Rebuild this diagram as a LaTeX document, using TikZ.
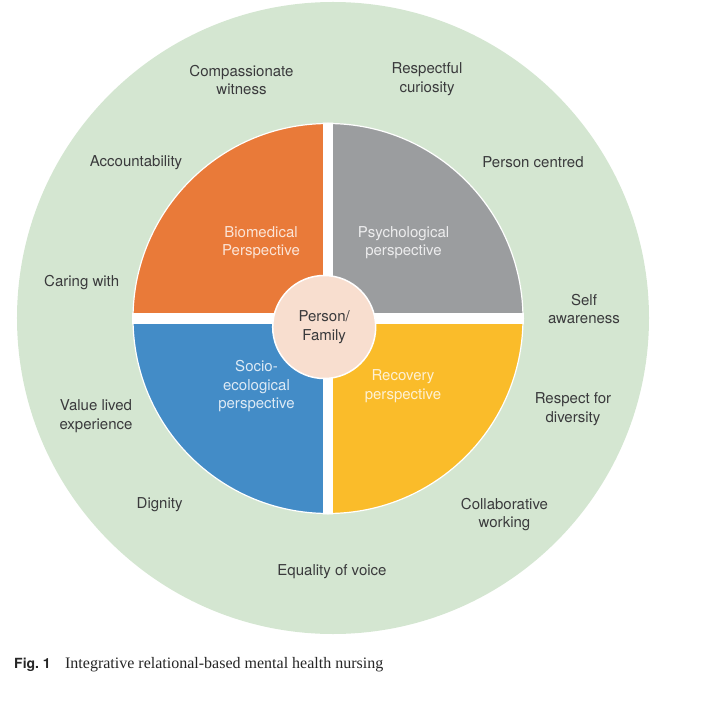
\documentclass[tikz,border=0pt]{standalone}
\usepackage{fontspec}
\setmainfont{TeX Gyre Heros}
\newfontfamily\capfont{Liberation Serif}
\usepackage{tikz}

\definecolor{ringgreen}{HTML}{D4E6D1}
\definecolor{bioorange}{HTML}{E97A39}
\definecolor{psygray}{HTML}{9B9D9F}
\definecolor{socblue}{HTML}{438CC7}
\definecolor{recyellow}{HTML}{FABC2A}
\definecolor{personpink}{HTML}{F8DECF}
\definecolor{textdark}{HTML}{3A3A3C}

\begin{document}
\begin{tikzpicture}[x=1pt,y=1pt]

\tikzset{value/.style = {align=center,text=textdark,inner sep=0,font=\fontsize{15}{18.5}\selectfont}}
\tikzset{view/.style = {align=center,inner sep=0,font=\fontsize{15}{18.5}\selectfont}}

\useasboundingbox (-328,-382.5) rectangle (375,318.5);

% outer ring
\fill[ringgreen] (5,0.5) circle (316);

% perspectives
\fill[bioorange] (0,0) -- (180:195) arc (180:90:195) -- cycle;
\fill[psygray] (0,0) -- (90:195) arc (90:0:195) -- cycle;
\fill[recyellow] (0,0) -- (0:195) arc (0:-90:195) -- cycle;
\fill[socblue] (0,0) -- (270:195) arc (270:180:195) -- cycle;
\begin{scope}
\clip (0,0) circle (196);
\draw[white,line width=10.6] (0,-200) -- (0,200);
\draw[white,line width=10.6] (-200,0) -- (200,0);
\end{scope}
\draw[white,line width=1.2] (0,0) circle (195);

\node[view,text=white!80!bioorange] (bio) at (-67,75.7) {Biomedical\\Perspective};
\node[view,text=white!82!psygray] (psy) at (75.5,75.7) {Psychological\\perspective};
\node[view,text=white!82!socblue] (soc) at (-71.5,-68) {Socio-\\ecological\\perspective};
\node[view,text=white!80!recyellow] (rec) at (75,-67.7) {Recovery\\perspective};

% centre
\node[circle,fill=personpink,draw=white,line width=1.5,minimum size=103,inner sep=0,
  align=center,text=textdark,font=\fontsize{15}{18.5}\selectfont] (pf) at (-3.8,-8.5) {Person/\\Family};

% values
\node[value] (compassion) at (-86.5,238.5) {Compassionate\\witness};
\node[value] (curiosity) at (99,239.5) {Respectful\\curiosity};
\node[value] (account) at (-192,155.8) {Accountability};
\node[value] (centred) at (205,156) {Person centred};
\node[value] (caring) at (-246.3,36.2) {Caring with};
\node[value] (aware) at (256,9.7) {Self\\awareness};
\node[value] (lived) at (-232,-97.7) {Value lived\\experience};
\node[value] (diversity) at (245,-90.7) {Respect for\\diversity};
\node[value] (dignity) at (-168.4,-186.5) {Dignity};
\node[value] (collab) at (176.5,-196) {Collaborative\\working};
\node[value] (voice) at (4,-253.2) {Equality of voice};

% caption
\node[anchor=base west,inner sep=0,text=black!85,font=\bfseries\fontsize{14}{16}\selectfont] (fig) at (-314,-349.5) {Fig.~1};
\node[anchor=base west,inner sep=0,text=black!85,font=\capfont\fontsize{16}{18}\selectfont] (cap) at ([xshift=14]fig.base east) {Integrative relational-based mental health nursing};

\end{tikzpicture}
\end{document}
